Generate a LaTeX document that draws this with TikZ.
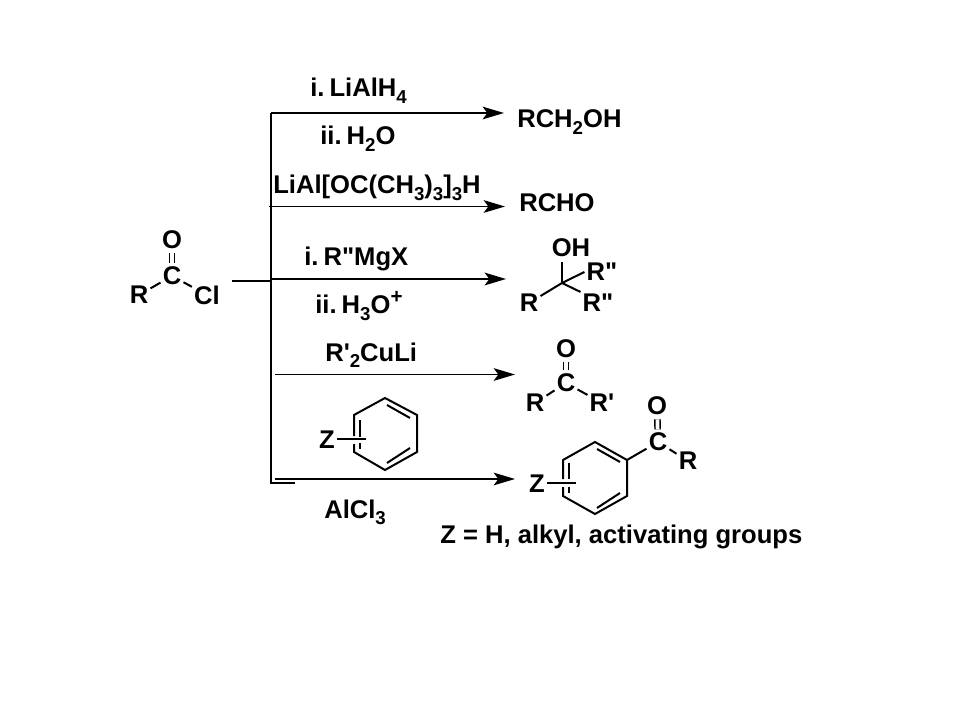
\documentclass[tikz,border=0pt]{standalone}
\usepackage{fontspec}
\newfontfamily\chemfont{Liberation Sans}[BoldFont={Liberation Sans Bold}]
\usetikzlibrary{arrows.meta}
\newcommand{\lo}[1]{\raisebox{-0.24em}{\fontsize{14pt}{14pt}\selectfont #1}}
\newcommand{\hi}[1]{\raisebox{0.42em}{\fontsize{15.5pt}{15pt}\selectfont #1}}
\tikzset{
  x=0.75pt,y=-0.75pt,
  txt/.style={font=\chemfont\bfseries\fontsize{19.2pt}{20pt}\selectfont,text=black,inner sep=0pt,anchor=base west},
  atom/.style={font=\chemfont\bfseries\fontsize{19.2pt}{20pt}\selectfont,text=black,inner sep=1.5pt,anchor=center},
  bond/.style={line width=1.5pt,draw=black},
  dbond/.style={line width=1.1pt,draw=black,double=white,double distance=2.8pt,shorten >=1pt,shorten <=1.5pt},
  ring/.style={line width=1.5pt,draw=black,line join=miter},
  thick line/.style={line width=1.6pt,draw=black},
  rxn/.style={line width=1.5pt,draw=black,-{Stealth[length=16pt,width=9.5pt,inset=3.5pt]}},
  thinrxn/.style={line width=0.85pt,draw=black,-{Stealth[length=16pt,width=9.5pt,inset=3.5pt]}},
}
\begin{document}
\begin{tikzpicture}
\useasboundingbox[fill=white] (0,0) rectangle (960,720);
% acid chloride
\node[atom] (O1) at (172,240) {O};
\node[atom] (C1) at (172,276) {C};
\node[atom] (R1) at (139,295) {R};
\node[atom] (Cl1) at (207,295) {Cl};
\draw[dbond] (O1) -- (C1);
\draw[bond] (R1) -- (C1);
\draw[bond] (C1) -- (Cl1);
% trunk
\coordinate (s0) at (232,281);
\coordinate (j0) at (271,281);
\coordinate (t1) at (271,113);
\coordinate (t2) at (271,483);
\coordinate (t3) at (295,483);
\draw[thick line] (s0) -- (j0);
\draw[thick line] (t3) -- (t2) -- (t1);
% arrows
\coordinate (a1s) at (271,113);  \coordinate (a1e) at (504,113);
\coordinate (a2s) at (269,206.5);\coordinate (a2e) at (505,206.5);
\coordinate (a3s) at (271,279);  \coordinate (a3e) at (506,279);
\coordinate (a4s) at (275,374.5);\coordinate (a4e) at (515,374.5);
\coordinate (a5s) at (275,479);  \coordinate (a5e) at (515,479);
\draw[rxn] (a1s) -- (a1e);
\draw[thinrxn] (a2s) -- (a2e);
\draw[rxn] (a3s) -- (a3e);
\draw[thinrxn] (a4s) -- (a4e);
\draw[thinrxn] (a5s) -- (a5e);
% reagents
\node[txt] (l1) at (310,97) {i.\hspace{0.2em}LiAlH\lo{4}};
\node[txt] (l2) at (320,145) {ii.\hspace{0.2em}H\lo{2}O};
\node[txt] (l3) at (273,194) {LiAl[OC(CH\lo{3})\lo{3}]\lo{3}H};
\node[txt] (l4) at (304,266) {i.\hspace{0.2em}R"MgX};
\node[txt] (l5) at (315,314) {ii.\hspace{0.2em}H\lo{3}O\hi{+}};
\node[txt] (l6) at (325,361) {R'\lo{2}CuLi};
\node[txt] (l7) at (324,518) {AlCl\lo{3}};
% products
\node[txt] (p1) at (517,128) {RCH\lo{2}OH};
\node[txt] (p2) at (519,212) {RCHO};
% tertiary alcohol
\coordinate (C3) at (562,283);
\node[atom] (OH3) at (571,248) {OH};
\node[atom] (Ra3) at (602,272) {R"};
\node[atom] (Rb3) at (529,303) {R};
\node[atom] (Rc3) at (598,303) {R"};
\coordinate (u3) at (562,262);
\draw[bond] (C3) -- (u3);
\draw[bond] (C3) -- (Ra3.west);
\draw[bond] (C3) -- (Rb3);
\draw[bond] (C3) -- (Rc3.north west);
% ketone
\node[atom] (O4) at (566,349) {O};
\node[atom] (C4) at (566,383) {C};
\node[atom] (R4) at (535,403) {R};
\node[atom] (Rp4) at (602,403) {R'};
\draw[dbond] (O4) -- (C4);
\draw[bond] (R4) -- (C4);
\draw[bond] (C4) -- (Rp4);
% reagent arene
\coordinate (b1) at (385,398);
\coordinate (b2) at (417,415);
\coordinate (b3) at (417,452);
\coordinate (b4) at (385,470);
\coordinate (b5) at (354,452);
\coordinate (b6) at (354,415);
\coordinate (b7) at (354,436);
\coordinate (b8) at (354,444);
\draw[ring] (b7) -- (b6) -- (b1) -- (b2) -- (b3) -- (b4) -- (b5) -- (b8);
\coordinate (bi1) at (387,405); \coordinate (bi2) at (410,418);
\coordinate (bi3) at (387,463); \coordinate (bi4) at (410,448);
\coordinate (bi5) at (360,420); \coordinate (bi6) at (360,437);
\coordinate (bi7) at (360,443); \coordinate (bi8) at (360,449);
\draw[bond] (bi1) -- (bi2);
\draw[bond] (bi3) -- (bi4);
\draw[bond] (bi5) -- (bi6);
\draw[bond] (bi7) -- (bi8);
\node[atom] (Zb) at (327,440) {Z};
\coordinate (zb) at (366,439);
\draw[bond] (Zb.east |- zb) -- (zb);
% aryl ketone
\coordinate (c1) at (595,442);
\coordinate (c2) at (627,460);
\coordinate (c3) at (627,496);
\coordinate (c4) at (595,514);
\coordinate (c5) at (563,496);
\coordinate (c6) at (563,460);
\coordinate (c7) at (563,479);
\coordinate (c8) at (563,487);
\draw[ring] (c7) -- (c6) -- (c1) -- (c2) -- (c3) -- (c4) -- (c5) -- (c8);
\coordinate (ci1) at (597,449); \coordinate (ci2) at (620,462);
\coordinate (ci3) at (597,508); \coordinate (ci4) at (620,493);
\coordinate (ci5) at (569,463); \coordinate (ci6) at (569,479);
\coordinate (ci7) at (569,487); \coordinate (ci8) at (569,493);
\draw[bond] (ci1) -- (ci2);
\draw[bond] (ci3) -- (ci4);
\draw[bond] (ci5) -- (ci6);
\draw[bond] (ci7) -- (ci8);
\node[atom] (Zc) at (537,484) {Z};
\coordinate (zc) at (576,483);
\draw[bond] (Zc.east |- zc) -- (zc);
\node[atom] (O5) at (657,406) {O};
\node[atom] (C5) at (658,442) {C};
\node[atom] (R5) at (688,461) {R};
\draw[dbond] (O5) -- (C5);
\draw[bond] (c2) -- (C5);
\draw[bond] (C5) -- (R5);
% footer
\node[txt] (note) at (440,543) {Z = H, alkyl, activating groups};
\end{tikzpicture}
\end{document}
